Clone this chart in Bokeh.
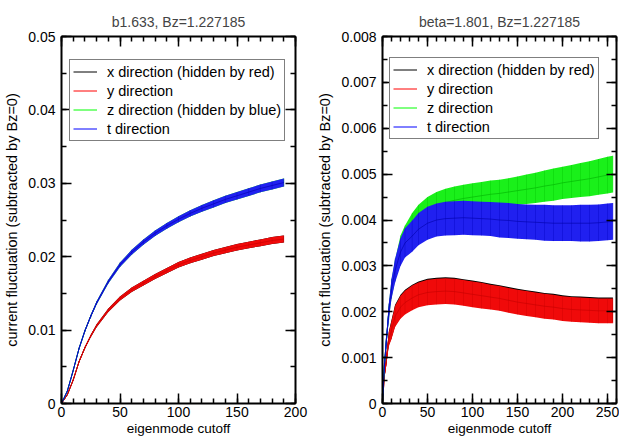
import numpy as np
from bokeh.plotting import figure
from bokeh.models import (Range1d, LinearAxis, FixedTicker, CustomJSTickFormatter,
                          Legend, LegendItem)
from bokeh.layouts import row
from bokeh.embed import file_html
from bokeh.resources import INLINE

# ---------------- left panel data (b1.633) ----------------
left_title = "b1.633, Bz=1.227185"
left_x = [0, 5, 10, 15, 20, 25, 30, 40, 50, 60, 70, 80, 90, 100, 110, 120,
          130, 140, 150, 160, 170, 180, 190]
left_xdir = [0, 0.0012, 0.0032, 0.0057, 0.0076, 0.0092, 0.0106, 0.0127, 0.0143,
             0.0155, 0.0164, 0.0173, 0.0181, 0.0189, 0.0195, 0.0200, 0.0205,
             0.0209, 0.0213, 0.0216, 0.0219, 0.0222, 0.0224]
left_ydir = [0, 0.0012, 0.0032, 0.0057, 0.0076, 0.0092, 0.0106, 0.0127, 0.0143,
             0.0155, 0.0164, 0.0173, 0.0181, 0.0189, 0.0195, 0.0200, 0.0205,
             0.0209, 0.0213, 0.0216, 0.0219, 0.0222, 0.0224]
left_xy_err = [0, 0.00005, 0.0001, 0.00012, 0.00015, 0.00018, 0.0002, 0.00024,
               0.00027, 0.0003, 0.00032, 0.00034, 0.00036, 0.00038, 0.0004,
               0.00041, 0.00042, 0.00043, 0.00044, 0.00045, 0.00046, 0.00047, 0.00048]
left_zdir = [0, 0.0017, 0.0045, 0.0075, 0.0099, 0.0119, 0.0137, 0.0166, 0.0189,
             0.0206, 0.0220, 0.0232, 0.0242, 0.0251, 0.0259, 0.0266, 0.0272,
             0.0278, 0.0283, 0.0288, 0.0293, 0.0297, 0.0301]
left_tdir = [0, 0.0017, 0.0045, 0.0075, 0.0099, 0.0119, 0.0137, 0.0166, 0.0189,
             0.0206, 0.0220, 0.0232, 0.0242, 0.0251, 0.0259, 0.0266, 0.0272,
             0.0278, 0.0283, 0.0288, 0.0293, 0.0297, 0.0301]
left_zt_err = [0, 0.00005, 0.0001, 0.00013, 0.00016, 0.0002, 0.00022, 0.00026,
               0.0003, 0.00033, 0.00036, 0.00038, 0.0004, 0.00042, 0.00044,
               0.00046, 0.00048, 0.0005, 0.00051, 0.00052, 0.00053, 0.00054, 0.00055]
left_labels = ["x direction (hidden by red)", "y direction",
               "z direction (hidden by blue)", "t direction"]
left_xticks = [0, 50, 100, 150, 200]
left_yticks = [0, 0.01, 0.02, 0.03, 0.04, 0.05]

# ---------------- right panel data (beta=1.801) ----------------
right_title = "beta=1.801, Bz=1.227185"
right_x = [0, 2, 4, 7, 10, 14, 20, 25, 33, 40, 50, 60, 70, 80, 90, 100, 110,
           120, 130, 140, 150, 160, 170, 180, 190, 200, 210, 220, 230, 240, 250, 256]
right_ydir = [0, 0.0006, 0.0009, 0.0014, 0.0016, 0.0019, 0.0021, 0.0022, 0.0023,
              0.00237, 0.00242, 0.00244, 0.00245, 0.00244, 0.00241, 0.00238,
              0.00235, 0.00232, 0.00229, 0.00225, 0.00221, 0.00218, 0.00215,
              0.00212, 0.0021, 0.00207, 0.00205, 0.00204, 0.00203, 0.00202,
              0.00202, 0.00202]
right_xdir = [0, 0.00061, 0.00091, 0.00142, 0.00162, 0.00192, 0.00212, 0.00222,
              0.00232, 0.00239, 0.00244, 0.00246, 0.00247, 0.00246, 0.00243,
              0.0024, 0.00237, 0.00234, 0.00231, 0.00227, 0.00223, 0.0022,
              0.00217, 0.00214, 0.00212, 0.00209, 0.00207, 0.00206, 0.00205,
              0.00204, 0.00204, 0.00204]
right_xy_err = [0, 0.00006, 0.0001, 0.00015, 0.0002, 0.00023, 0.00025, 0.00026,
                0.00027, 0.00027, 0.00028, 0.00028, 0.00028, 0.00028, 0.00028,
                0.00028, 0.00028, 0.00027, 0.00027, 0.00027, 0.00027, 0.00027,
                0.00027, 0.00027, 0.00027, 0.00027, 0.00027, 0.00027, 0.00027,
                0.00027, 0.00027, 0.00027]
right_zdir = [0, 0.0008, 0.0013, 0.002, 0.0025, 0.0029, 0.0034, 0.0036, 0.00385,
              0.00403, 0.0042, 0.00431, 0.00438, 0.00443, 0.00447, 0.0045,
              0.00453, 0.00456, 0.00458, 0.00461, 0.00464, 0.00467, 0.0047,
              0.00474, 0.00477, 0.00481, 0.00484, 0.00487, 0.0049, 0.00494,
              0.00498, 0.005]
right_z_err = [0, 0.00008, 0.00012, 0.00016, 0.0002, 0.00023, 0.00026, 0.00028,
               0.0003, 0.0003, 0.0003, 0.0003, 0.0003, 0.0003, 0.0003, 0.0003,
               0.0003, 0.0003, 0.0003, 0.0003, 0.00031, 0.00032, 0.00033,
               0.00034, 0.00035, 0.00035, 0.00036, 0.00037, 0.00038, 0.00039,
               0.0004, 0.0004]
right_tdir = [0, 0.0008, 0.0013, 0.002, 0.0025, 0.0029, 0.0033, 0.0035, 0.00365,
              0.0038, 0.00393, 0.004, 0.00403, 0.00404, 0.00405, 0.00404,
              0.00403, 0.00402, 0.004, 0.00399, 0.00397, 0.00396, 0.00395,
              0.00394, 0.00393, 0.00393, 0.00393, 0.00393, 0.00393, 0.00394,
              0.00396, 0.00397]
right_t_err = [0, 0.00008, 0.00012, 0.00018, 0.00022, 0.00026, 0.0003, 0.00032,
               0.00034, 0.00035, 0.00036, 0.00036, 0.00037, 0.00037, 0.00037,
               0.00037, 0.00037, 0.00037, 0.00038, 0.00038, 0.00038, 0.00038,
               0.00038, 0.00039, 0.00039, 0.00039, 0.00039, 0.0004, 0.0004,
               0.0004, 0.0004, 0.0004]
right_labels = ["x direction (hidden by red)", "y direction", "z direction", "t direction"]
right_xticks = [0, 50, 100, 150, 200, 250]
right_yticks = [0, 0.001, 0.002, 0.003, 0.004, 0.005, 0.006, 0.007, 0.008]

FONT = "Liberation Sans"

legend_colors = ["#000000", "#ff0000", "#00ff00", "#0000ff"]
band_colors = ["#000000", "#f00a0a", "#1af01a", "#2020f0"]
bar_colors = ["#000000", "#cc0000", "#00c400", "#0000c0"]
center_colors = ["#000000", "#c40000", "#00b000", "#0000a8"]

fmt_code = "return String(parseFloat(tick.toFixed(5)));"


def style_axis(ax, ticker, show_labels, label_size="14px"):
    ax.ticker = ticker
    ax.major_tick_in = 10
    ax.major_tick_out = 0
    ax.minor_tick_in = 5
    ax.minor_tick_out = 0
    ax.axis_line_width = 2
    ax.major_tick_line_width = 1.5
    ax.minor_tick_line_width = 1.5
    ax.axis_line_color = "black"
    ax.major_tick_line_color = "black"
    ax.minor_tick_line_color = "black"
    if show_labels:
        ax.formatter = CustomJSTickFormatter(code=fmt_code)
        ax.major_label_text_font = FONT
        ax.major_label_text_font_size = "14px"
        ax.major_label_text_color = "black"
        ax.axis_label_text_font = FONT
        ax.axis_label_text_font_size = label_size
        ax.axis_label_text_font_style = "normal"
        ax.axis_label_text_color = "black"
    else:
        ax.formatter = CustomJSTickFormatter(code="return '';")
        ax.major_label_standoff = 0
        ax.major_label_text_font_size = "0px"


def make_panel(title, xs, series, labels, xmax, ymax, xticks, yticks,
               x_minor_step, y_minor_step, width, min_left, min_right, legend_loc):
    p = figure(width=width, height=439, output_backend="svg", toolbar_location=None,
               x_range=Range1d(0, xmax), y_range=Range1d(0, ymax),
               min_border_left=min_left, min_border_right=min_right,
               min_border_top=36, min_border_bottom=36,
               x_axis_label="eigenmode cutoff",
               y_axis_label="current fluctuation (subtracted by Bz=0)")
    p.title.text = title
    p.title.align = "center"
    p.title.text_font = FONT
    p.title.text_font_size = "14px"
    p.title.text_font_style = "normal"
    p.title.standoff = 14
    p.grid.visible = False
    p.outline_line_color = None
    p.background_fill_color = "white"
    p.border_fill_color = "white"

    xminor = list(np.arange(0, xmax + 1e-9, x_minor_step))
    yminor = list(np.arange(0, ymax + 1e-12, y_minor_step))
    xt = FixedTicker(ticks=xticks, minor_ticks=xminor)
    yt = FixedTicker(ticks=yticks, minor_ticks=yminor)

    style_axis(p.xaxis[0], xt, True, "13.5px")
    p.xaxis[0].major_label_standoff = 3
    p.xaxis[0].axis_label_standoff = 1
    style_axis(p.yaxis[0], yt, True, "14.5px")
    p.yaxis[0].major_label_standoff = 6
    p.yaxis[0].axis_label_standoff = 5

    top = LinearAxis()
    style_axis(top, FixedTicker(ticks=xticks, minor_ticks=xminor), False)
    p.add_layout(top, "above")
    right = LinearAxis()
    style_axis(right, FixedTicker(ticks=yticks, minor_ticks=yminor), False)
    p.add_layout(right, "right")

    xs_arr = np.array(xs, dtype=float)
    items = []
    for i, (center, err) in enumerate(series):
        c = np.array(center, dtype=float)
        e = np.array(err, dtype=float)
        # pure-colour series line (used as the legend sample), covered by its band
        ln = p.line(x=xs_arr, y=c, line_color=legend_colors[i], line_width=1)
        p.varea(x=xs_arr, y1=c - e, y2=c + e, fill_color=band_colors[i], fill_alpha=1.0)
        if i > 0:
            p.segment(x0=xs_arr, y0=c - e, x1=xs_arr, y1=c + e,
                      line_color=bar_colors[i], line_width=1, line_alpha=0.35)
            p.line(x=xs_arr, y=c, line_color=center_colors[i], line_width=1, line_alpha=0.6)
        items.append(LegendItem(label=labels[i], renderers=[ln]))

    leg = Legend(items=items, location=legend_loc)
    leg.label_text_font = FONT
    leg.label_text_font_size = "14.5px"
    leg.label_text_color = "black"
    leg.glyph_width = 24
    leg.glyph_height = 17
    leg.label_height = 17
    leg.label_standoff = 10
    leg.spacing = 2
    leg.padding = 3
    leg.margin = 0
    leg.border_line_color = "black"
    leg.border_line_width = 1
    leg.background_fill_color = "white"
    leg.background_fill_alpha = 1.0
    p.add_layout(leg, "center")
    return p


p1 = make_panel(left_title, left_x,
                [(left_xdir, left_xy_err), (left_ydir, left_xy_err),
                 (left_zdir, left_zt_err), (left_tdir, left_zt_err)],
                left_labels, 200, 0.05, left_xticks, left_yticks, 10, 0.005,
                310, 61, 15, (8, 262))
p2 = make_panel(right_title, right_x,
                [(right_xdir, right_xy_err), (right_ydir, right_xy_err),
                 (right_zdir, right_z_err), (right_tdir, right_t_err)],
                right_labels, 260, 0.008, right_xticks, right_yticks, 10, 0.0005,
                309, 72, 3, (7, 264))

layout = row(p1, p2)
open("out.html", "w").write(file_html(layout, INLINE))
